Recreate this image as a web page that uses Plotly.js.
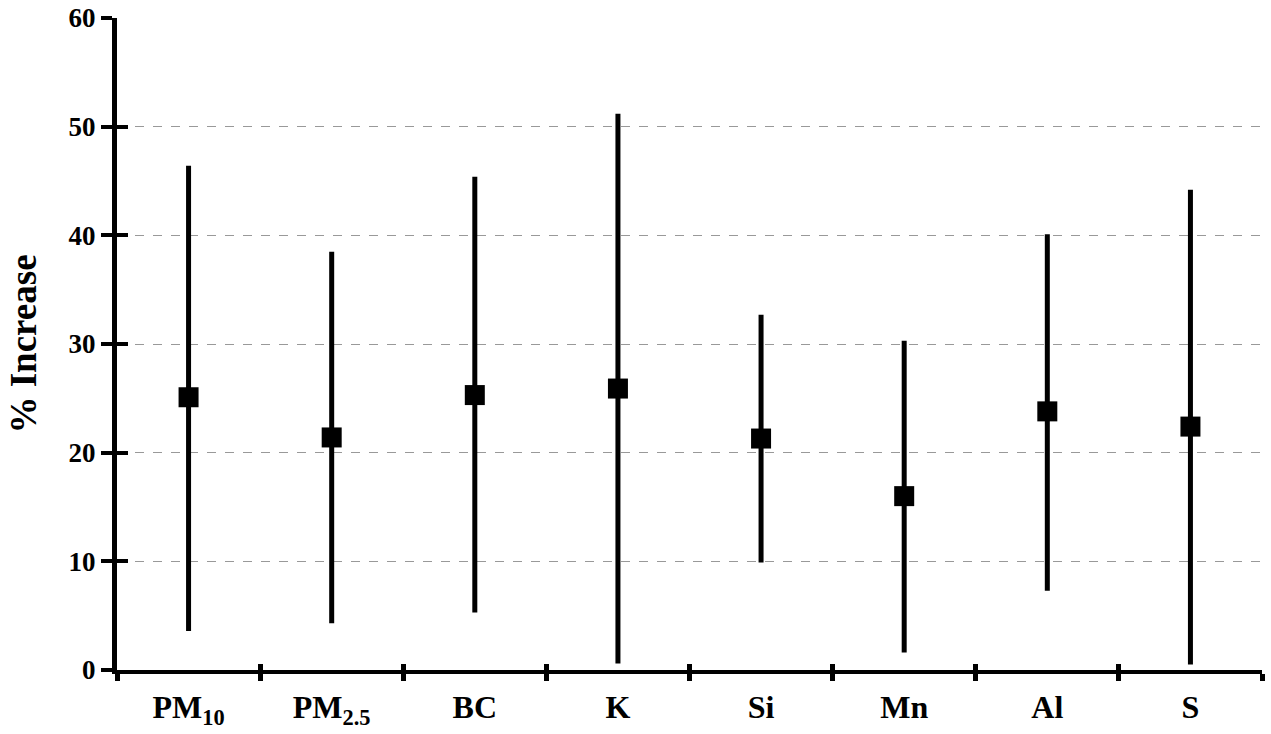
<!DOCTYPE html>
<html><head><meta charset="utf-8">
<script src="https://cdn.plot.ly/plotly-3.0.1.min.js"></script>
<style>html,body{margin:0;padding:0;background:#fff}</style>
</head><body>
<div id="chart" style="width:1271px;height:734px"></div>
<script>
const categories = ["PM<sub>10</sub>", "PM<sub>2.5</sub>", "BC", "K", "Si", "Mn", "Al", "S"];
const central = [25.1, 21.4, 25.3, 25.9, 21.3, 16.0, 23.8, 22.4];
const lower = [3.6, 4.3, 5.3, 0.6, 9.9, 1.6, 7.3, 0.5];
const upper = [46.4, 38.5, 45.4, 51.2, 32.7, 30.3, 40.1, 44.2];

const errPlus = upper.map((u, i) => u - central[i]);
const errMinus = lower.map((l, i) => central[i] - l);

const fam = "Liberation Serif, Times New Roman, serif";

const trace = {
  x: categories, y: central, type: "scatter", mode: "markers",
  marker: {symbol: "square", size: 20, color: "#000"},
  error_y: {type: "data", symmetric: false, array: errPlus, arrayminus: errMinus,
            width: 0, thickness: 5, color: "#000"},
  showlegend: false, hoverinfo: "skip"
};
const ghost = {x: categories, y: central, xaxis: "x2", yaxis: "y2", type: "scatter", mode: "markers",
  marker: {opacity: 0}, showlegend: false, hoverinfo: "skip"};

const layout = {
  width: 1271, height: 734,
  margin: {l: 117, r: 9, t: 18, b: 64},
  paper_bgcolor: "#fff", plot_bgcolor: "#fff",
  font: {family: fam, color: "#000", weight: "bold"},
  xaxis: {
    type: "category", range: [-0.5, 7.5],
    showline: true, linecolor: "#000", linewidth: 4,
    ticks: "outside", tickson: "boundaries", ticklen: 7, tickwidth: 5, tickcolor: "#000",
    showgrid: false, zeroline: false,
    tickfont: {family: fam, size: 32, color: "#000", weight: "bold"},
    ticklabelstandoff: 6
  },
  xaxis2: {
    type: "category", range: [-0.5, 7.5], overlaying: "x", anchor: "y2",
    showline: false, ticks: "inside", tickson: "boundaries", ticklen: 6, tickwidth: 5, tickcolor: "#000",
    showticklabels: false, showgrid: false, zeroline: false
  },
  yaxis: {
    range: [0, 60], dtick: 10,
    showline: true, linecolor: "#000", linewidth: 5,
    ticks: "outside", ticklen: 11, tickwidth: 4, tickcolor: "#000",
    showgrid: true, gridcolor: "#999", gridwidth: 1, griddash: "dash",
    zeroline: false,
    tickfont: {family: fam, size: 27, color: "#000", weight: "bold"},
    title: {text: "% Increase", font: {family: fam, size: 37, color: "#000", weight: "bold"}, standoff: 22}
  },
  yaxis2: {
    range: [0, 60], dtick: 10, overlaying: "y", anchor: "x2",
    showline: false, ticks: "inside", ticklen: 11, tickwidth: 4, tickcolor: "#000",
    showticklabels: false, showgrid: false, zeroline: false
  }
};

Plotly.newPlot("chart", [trace, ghost], layout, {displayModeBar: false, staticPlot: true});
</script>
</body></html>
